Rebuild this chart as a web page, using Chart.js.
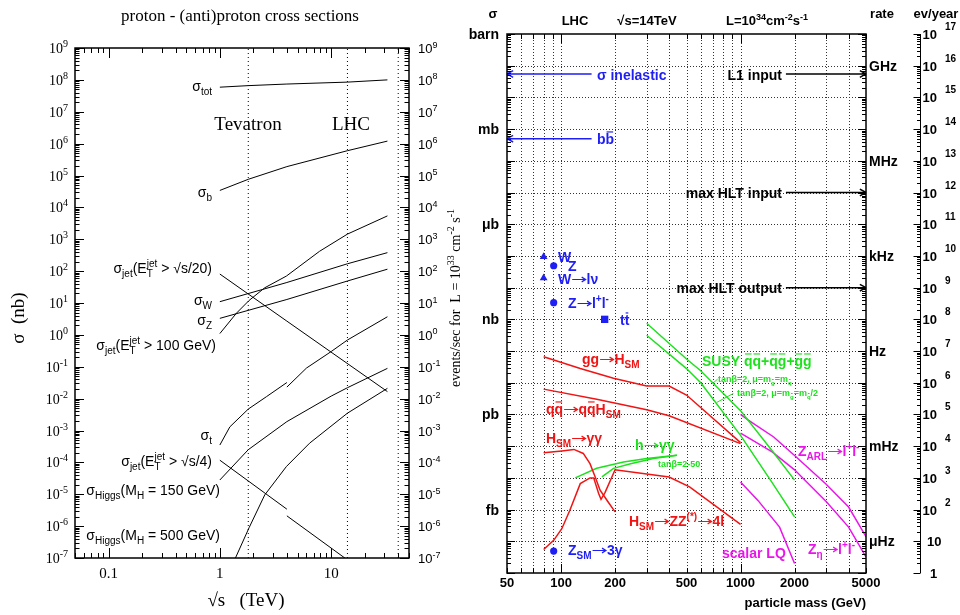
<!DOCTYPE html>
<html lang="en">
<head>
<meta charset="UTF-8">
<title>Cross sections</title>
<script src="https://cdn.jsdelivr.net/npm/chart.js"></script>
<style>
  body { margin: 0; background: #fff; }
  #wrap { position: relative; width: 960px; height: 615px; }
  #wrap canvas { position: absolute; left: 0; top: 0; }
</style>
</head>
<body>
<div id="wrap">
  <canvas id="ppChart" width="960" height="615"></canvas>
  <canvas id="lhcChart" width="960" height="615"></canvas>
</div>
<script>
// ---------- left panel: sqrt(s) in TeV, sigma in nb ----------
const colliderLines = [1.8, 14, 40];
const ppXTicks = [0.1, 1, 10];
const sigmaTot = [[1, 5.9e7], [1.8, 6.6e7], [4, 7.4e7], [14, 8.5e7], [32, 1.0e8]];
const sigmaB = [[1, 3.4e4], [1.8, 7.6e4], [4, 1.9e5], [14, 6.0e5], [32, 1.2e6]];
const sigmaJetS20 = [[1, 81], [4, 2.7], [32, 0.0166]];
const sigmaW = [[1, 11], [4, 44], [14, 170], [32, 380]];
const sigmaZ = [[1, 3.3], [4, 12.9], [14, 49], [32, 115]];
const sigmaJet100 = [[1, 1.1], [1.41, 4.8], [1.83, 12], [2.53, 30], [3.96, 70], [7.87, 420], [14, 1450], [32, 5400]];
const sigmaTop = [[1, 3.5e-4], [1.23, 1.3e-3], [1.8, 4.7e-3], [2.62, 1.15e-2], [4, 3.2e-2], [4, null],
                  [4, 0.023], [6, 0.091], [10, 0.30], [14, 0.69], [32, 3.7]];
const sigmaJetS4 = [[1, 1.17e-4], [4, 3.4e-6], [4, null], [4, 2.1e-6], [14, 8.7e-8]];
const sigmaH150 = [[1, 2.8e-5], [1.8, 2.5e-4], [4, 1.9e-3], [10, 1.2e-2], [14, 2.2e-2], [32, 8.9e-2]];
const sigmaH500 = [[1.36, 8.9e-8], [1.83, 8.9e-7], [2.53, 9.5e-6], [3.96, 7.4e-5], [6.4, 4.0e-4], [14, 3.5e-3], [32, 2.1e-2]];

// ---------- right panel: particle mass in GeV, sigma in pb ----------
const massTicks = [50, 100, 200, 500, 1000, 2000, 5000];
const sigmaUnits = [['barn', 1e12], ['mb', 1e9], ['\u03bcb', 1e6], ['nb', 1e3], ['pb', 1], ['fb', 1e-3]];
const rateUnits = [['GHz', 1e11], ['MHz', 1e8], ['kHz', 1e5], ['Hz', 1e2], ['mHz', 1e-1], ['\u03bcHz', 1e-4]];
const evPerYearExp = [0, 1, 2, 3, 4, 5, 6, 7, 8, 9, 10, 11, 12, 13, 14, 15, 16, 17];

const inelasticArrow = [[148, 5.5e10], [50, 5.5e10]];
const bbArrow = [[148, 5.0e8], [50, 5.0e8]];
const l1InputArrow = [[1790, 5.5e10], [5000, 5.5e10]];
const hltInputArrow = [[1790, 1.0e7], [5000, 1.0e7]];
const hltOutputArrow = [[1790, 1.0e4], [5000, 1.0e4]];

const wTotal = [[80, 9.5e4]];
const zTotal = [[91, 4.9e4]];
const wToLnu = [[80, 2.0e4]];
const zToLl = [[91, 3.35e3]];
const ttbar = [[175, 1.0e3]];
const zTo3Gamma = [[91, 4.9e-5]];

const ggH = [[80, 66], [128, 28], [196, 13.8], [300, 7.9], [400, 7.9], [500, 4.1], [1000, 0.13]];
const qqH = [[80, 6.3], [158, 3.0], [300, 1.4], [400, 0.91], [1000, 0.12]];
const hToGG = [[80, 0.062], [101, 0.071], [118, 0.079], [133, 0.059], [145, 0.028], [155, 0.0107],
               [165, 0.0041], [183, 0.00174], [200, 0.00085]];
const hToZZ = [[80, 5.5e-5], [91, 1.07e-4], [101, 2.5e-4], [112, 9.5e-4], [128, 6.6e-3], [145, 0.01],
               [152, 0.01], [162, 3.2e-3], [167, 2.1e-3], [176, 3.5e-3], [200, 0.018], [300, 0.0132],
               [400, 0.0107], [520, 5.2e-3], [1000, 3.4e-4]];
const mssmHggUpper = [[120, 0.01], [158, 0.02], [223, 0.0316], [300, 0.041], [442, 0.052]];
const mssmHggLower = [[169, 0.0107], [196, 0.02], [244, 0.028], [327, 0.041], [442, 0.052]];
const susyUpper = [[300, 750], [500, 56], [600, 24], [1000, 1.32], [1500, 0.072], [2000, 0.0085]];
const susyLower = [[300, 316], [500, 28], [600, 10], [1000, 0.22], [1500, 0.0071], [2000, 5.9e-4]];
const susyTag1 = [[706, 10], [745, 13]];
const susyTag2 = [[737, 2.4], [912, 4.6]];
const zArl = [[1000, 1.0], [1105, 0.66], [1530, 0.195], [2000, 0.051], [3000, 6.3e-3], [4000, 1.2e-3], [5000, 1.4e-4]];
const zEta = [[1000, 0.26], [1500, 0.066], [2000, 0.018], [3000, 1.8e-3], [4000, 2.8e-4], [5000, 3.2e-5]];
const scalarLq = [[1000, 7.4e-3], [1250, 1.95e-3], [1650, 2.8e-4], [2000, 2.0e-5]];

const SANS = '"Liberation Sans", Arial, Helvetica, sans-serif';
const SERIF = '"Liberation Serif", "Times New Roman", serif';
const BLUE = 'rgb(30,30,245)';
const RED = 'rgb(240,20,20)';
const GREEN = 'rgb(30,225,30)';
const MAGENTA = 'rgb(235,20,235)';

function line(pairs, color, width, extra) {
  return Object.assign({
    data: pairs.map(([x, y]) => ({ x, y })),
    showLine: true, borderColor: color, borderWidth: width, pointRadius: 0, fill: false
  }, extra || {});
}
function marker(pairs, style, radius) {
  return {
    data: pairs.map(([x, y]) => ({ x, y })),
    showLine: false, pointStyle: style, pointRadius: radius,
    backgroundColor: BLUE, borderColor: BLUE, borderWidth: 0
  };
}

// every 1..9 x 10^n step between lo and hi
function logSteps(lo, hi) {
  const out = [];
  for (let e = Math.floor(Math.log10(lo)) - 1; e <= Math.ceil(Math.log10(hi)); e++) {
    for (let m = 1; m < 10; m++) {
      const v = m * Math.pow(10, e);
      if (v >= lo * 0.999 && v <= hi * 1.001) out.push({ v, major: m === 1 });
    }
  }
  return out;
}

// text with _{sub}, ^{sup}, !{overbar}, ~{barred sub}; arrows are drawn as lines
function parseRich(str) {
  const raw = [];
  const re = /([_^!~])\{([^}]*)\}/g;
  let last = 0, m;
  while ((m = re.exec(str))) {
    if (m.index > last) raw.push({ k: 'n', t: str.slice(last, m.index) });
    raw.push({ k: m[1], t: m[2] });
    last = re.lastIndex;
  }
  if (last < str.length) raw.push({ k: 'n', t: str.slice(last) });
  const out = [];
  raw.forEach(t => {
    if (t.k !== 'n' || t.t.indexOf('\u2192') < 0) { out.push(t); return; }
    t.t.split('\u2192').forEach((piece, i) => {
      if (i > 0) out.push({ k: 'a', t: '' });
      if (piece) out.push({ k: 'n', t: piece });
    });
  });
  return out;
}
function richText(ctx, str, x, y, o) {
  const size = o.size, wt = o.weight || 'normal', fam = o.family || SANS;
  const small = Math.round(size * 0.7);
  const parts = parseRich(str);
  let w = 0, prevStart = 0, prevW = 0;
  const placed = [];
  parts.forEach((p, i) => {
    const isSmall = p.k === '_' || p.k === '^' || p.k === '~';
    const fs = isSmall ? small : size;
    ctx.font = `${wt} ${fs}px ${fam}`;
    const pw = p.k === 'a' ? size * 1.1 : ctx.measureText(p.t).width;
    let px = w;
    if (p.k === '^' && i > 0 && (parts[i - 1].k === '_' || parts[i - 1].k === '~')) {
      px = prevStart;
      w = prevStart + Math.max(prevW, pw);
    } else {
      w += pw;
    }
    placed.push({ p, fs, px, pw });
    prevStart = px; prevW = pw;
  });
  const x0 = o.align === 'right' ? x - w : o.align === 'center' ? x - w / 2 : x;
  ctx.fillStyle = o.color || '#000';
  ctx.strokeStyle = o.color || '#000';
  ctx.textAlign = 'left';
  ctx.textBaseline = 'alphabetic';
  placed.forEach(q => {
    if (q.p.k === 'a') {
      const a0 = x0 + q.px + 1, a1 = x0 + q.px + q.pw - 1, ay = Math.round(y - size * 0.34) + 0.5;
      ctx.lineWidth = 1.2;
      ctx.beginPath();
      ctx.moveTo(a0, ay); ctx.lineTo(a1, ay);
      ctx.moveTo(a1 - size * 0.28, ay - size * 0.17); ctx.lineTo(a1, ay); ctx.lineTo(a1 - size * 0.28, ay + size * 0.17);
      ctx.stroke();
      return;
    }
    ctx.font = `${wt} ${q.fs}px ${fam}`;
    let dy = 0;
    if (q.p.k === '_' || q.p.k === '~') dy = size * 0.3;
    if (q.p.k === '^') dy = -size * 0.42;
    ctx.fillText(q.p.t, x0 + q.px, y + dy);
    if (q.p.k === '!' || q.p.k === '~') {
      const top = y + dy - q.fs * 0.86;
      ctx.lineWidth = Math.max(1, q.fs / 12);
      ctx.beginPath();
      ctx.moveTo(x0 + q.px + 1, top);
      ctx.lineTo(x0 + q.px + q.pw - 1, top);
      ctx.stroke();
    }
  });
  return w;
}
function rotatedText(ctx, str, x, y, o) {
  ctx.save();
  ctx.translate(x, y);
  ctx.rotate(-Math.PI / 2);
  richText(ctx, str, 0, 0, Object.assign({ align: 'center' }, o));
  ctx.restore();
}

function drawYTicks(ctx, sc, a, lo, hi, maj, min) {
  ctx.beginPath();
  logSteps(lo, hi).forEach(t => {
    const y = Math.round(sc.getPixelForValue(t.v)) + 0.5;
    const len = t.major ? maj : min;
    ctx.moveTo(a.left, y); ctx.lineTo(a.left + len, y);
    ctx.moveTo(a.right, y); ctx.lineTo(a.right - len, y);
  });
  ctx.stroke();
}
function drawXTicks(ctx, sc, a, lo, hi, maj, min) {
  ctx.beginPath();
  logSteps(lo, hi).forEach(t => {
    const x = Math.round(sc.getPixelForValue(t.v)) + 0.5;
    const len = t.major ? maj : min;
    ctx.moveTo(x, a.bottom); ctx.lineTo(x, a.bottom - len);
    ctx.moveTo(x, a.top); ctx.lineTo(x, a.top + len);
  });
  ctx.stroke();
}

const common = {
  responsive: false,
  animation: false,
  events: [],
  plugins: { legend: { display: false }, tooltip: { enabled: false } },
  elements: { line: { tension: 0 } }
};

// ---------- left chart ----------
const ppDecor = {
  id: 'ppDecor',
  afterDraw(chart) {
    const { ctx, chartArea: a, scales: { x, y } } = chart;
    ctx.save();
    ctx.strokeStyle = '#000';
    ctx.lineWidth = 1;
    drawYTicks(ctx, y, a, 1e-7, 1e9, 9, 4.5);
    drawXTicks(ctx, x, a, 0.05, 50, 10, 5);
    ctx.lineWidth = 1.5;
    ctx.strokeRect(a.left, a.top, a.right - a.left, a.bottom - a.top);

    for (let e = -7; e <= 9; e++) {
      const py = y.getPixelForValue(Math.pow(10, e));
      richText(ctx, '10^{' + e + '}', 68, py + 5, { size: 14, family: SERIF, align: 'right' });
      richText(ctx, '10^{' + e + '}', 418, py + 5, { size: 13, family: SANS });
    }
    ppXTicks.forEach(v => {
      richText(ctx, String(v), x.getPixelForValue(v), 578, { size: 15, family: SERIF, align: 'center' });
    });

    richText(ctx, 'proton - (anti)proton cross sections', 240, 21, { size: 17, family: SERIF, align: 'center' });
    richText(ctx, 'Tevatron', 248, 130, { size: 19, family: SERIF, align: 'center' });
    richText(ctx, 'LHC', 351, 130, { size: 19, family: SERIF, align: 'center' });
    richText(ctx, '\u221As   (TeV)', 246, 606, { size: 19, family: SERIF, align: 'center' });
    rotatedText(ctx, '\u03c3  (nb)', 24, 318, { size: 19, family: SERIF });
    rotatedText(ctx, 'events/sec for  L = 10^{33} cm^{-2} s^{-1}', 460, 298, { size: 14, family: SERIF });

    const lab = (s, xr, yb) => richText(ctx, s, xr, yb, { size: 14, family: SANS, align: 'right' });
    lab('\u03c3_{tot}', 212, 91);
    lab('\u03c3_{b}', 212, 197);
    lab('\u03c3_{jet}(E_{T}^{jet} > \u221As/20)', 212, 273);
    lab('\u03c3_{W}', 212, 305);
    lab('\u03c3_{Z}', 212, 325);
    lab('\u03c3_{jet}(E_{T}^{jet} > 100 GeV)', 216, 350);
    lab('\u03c3_{t}', 212, 440);
    lab('\u03c3_{jet}(E_{T}^{jet} > \u221As/4)', 212, 466);
    lab('\u03c3_{Higgs}(M_{H} = 150 GeV)', 220, 495);
    lab('\u03c3_{Higgs}(M_{H} = 500 GeV)', 220, 540);
    ctx.restore();
  }
};

new Chart(document.getElementById('ppChart'), {
  type: 'scatter',
  data: {
    datasets: [
      ...colliderLines.map(e => line([[e, 1e-7], [e, 1e9]], '#000', 1, { borderDash: [1, 3] })),
      line(sigmaTot, '#000', 1),
      line(sigmaB, '#000', 1),
      line(sigmaJetS20, '#000', 1),
      line(sigmaW, '#000', 1),
      line(sigmaZ, '#000', 1),
      line(sigmaJet100, '#000', 1),
      line(sigmaTop, '#000', 1),
      line(sigmaJetS4, '#000', 1),
      line(sigmaH150, '#000', 1),
      line(sigmaH500, '#000', 1)
    ]
  },
  options: Object.assign({}, common, {
    layout: { padding: { left: 75, right: 551, top: 48, bottom: 57 } },
    scales: {
      x: { type: 'logarithmic', min: 0.05, max: 50, display: false },
      y: { type: 'logarithmic', min: 1e-7, max: 1e9, display: false }
    }
  }),
  plugins: [ppDecor]
});

// ---------- right chart ----------
const lhcGrid = {
  id: 'lhcGrid',
  beforeDatasetsDraw(chart) {
    const { ctx, chartArea: a, scales: { x, y } } = chart;
    ctx.save();
    ctx.strokeStyle = '#333';
    ctx.lineWidth = 1;
    ctx.setLineDash([1, 2]);
    ctx.beginPath();
    logSteps(60, 4000).forEach(t => {
      const px = Math.round(x.getPixelForValue(t.v)) + 0.5;
      ctx.moveTo(px, a.top); ctx.lineTo(px, a.bottom);
    });
    for (let e = -4; e <= 11; e++) {
      const py = Math.round(y.getPixelForValue(Math.pow(10, e))) + 0.5;
      ctx.moveTo(a.left, py); ctx.lineTo(a.right, py);
    }
    ctx.stroke();
    ctx.restore();
  }
};

const arrowHeads = {
  id: 'arrowHeads',
  afterDatasetsDraw(chart) {
    const ctx = chart.ctx;
    chart.data.datasets.forEach((ds, i) => {
      if (!ds.arrowHead) return;
      const pts = chart.getDatasetMeta(i).data;
      const p1 = pts[pts.length - 1], p0 = pts[pts.length - 2];
      const ang = Math.atan2(p1.y - p0.y, p1.x - p0.x);
      ctx.save();
      ctx.strokeStyle = ds.borderColor;
      ctx.lineWidth = ds.borderWidth;
      ctx.beginPath();
      [-1, 1].forEach(s => {
        ctx.moveTo(p1.x, p1.y);
        ctx.lineTo(p1.x - 7 * Math.cos(ang + s * 0.5), p1.y - 7 * Math.sin(ang + s * 0.5));
      });
      ctx.stroke();
      ctx.restore();
    });
  }
};

const lhcDecor = {
  id: 'lhcDecor',
  afterDraw(chart) {
    const { ctx, chartArea: a, scales: { x, y } } = chart;
    ctx.save();
    ctx.strokeStyle = '#000';
    ctx.lineWidth = 1;
    drawYTicks(ctx, y, a, 1e-5, 1e12, 8, 4);
    drawXTicks(ctx, x, a, 50, 5000, 9, 5);
    ctx.lineWidth = 1.5;
    ctx.strokeRect(a.left, a.top, a.right - a.left, a.bottom - a.top);

    // events per year axis
    const ax = 920.5;
    ctx.lineWidth = 1;
    ctx.beginPath();
    ctx.moveTo(ax, a.top); ctx.lineTo(ax, a.bottom);
    logSteps(1e-5, 1e12).forEach(t => {
      const py = Math.round(y.getPixelForValue(t.v)) + 0.5;
      ctx.moveTo(ax, py); ctx.lineTo(ax - (t.major ? 7 : 3.5), py);
    });
    ctx.stroke();

    const B = (s, xx, yy, col, size, align) =>
      richText(ctx, s, xx, yy, { size, weight: 'bold', family: SANS, color: col, align: align || 'left' });

    evPerYearExp.forEach(k => {
      const py = y.getPixelForValue(Math.pow(10, k - 5));
      if (k === 0) B('1', 930, py + 5, '#000', 13);
      else if (k === 1) B('10', 927, py + 5, '#000', 13);
      else {
        B('10', 937, py + 5, '#000', 13, 'right');
        B(String(k), 945, py - 4, '#000', 10);
      }
    });
    sigmaUnits.forEach(([s, v]) => B(s, 499, y.getPixelForValue(v) + 5, '#000', 14, 'right'));
    rateUnits.forEach(([s, v]) => B(s, 869, y.getPixelForValue(v) + 5, '#000', 14));
    massTicks.forEach(v => B(String(v), x.getPixelForValue(v), 587, '#000', 13, 'center'));
    B('particle mass (GeV)', 866, 607, '#000', 13, 'right');

    B('\u03c3', 493, 18, '#000', 13, 'center');
    B('LHC', 575, 25, '#000', 13, 'center');
    B('\u221As=14TeV', 647, 25, '#000', 13, 'center');
    B('L=10^{34}cm^{-2}s^{-1}', 767, 25, '#000', 13, 'center');
    B('rate', 882, 18, '#000', 13, 'center');
    B('ev/year', 936, 18, '#000', 13, 'center');

    B('\u03c3 inelastic', 597, 80, BLUE, 14);
    B('b!{b}', 597, 144, BLUE, 14);
    B('L1 input', 782, 80, '#000', 14, 'right');
    B('max HLT input', 782, 198, '#000', 14, 'right');
    B('max HLT output', 782, 293, '#000', 14, 'right');

    B('W', 558, 262, BLUE, 14);
    B('Z', 568, 271, BLUE, 14);
    B('W\u2192l\u03bd', 558, 284, BLUE, 14);
    B('Z\u2192l^{+}l^{-}', 568, 308, BLUE, 14);
    B('t!{t}', 620, 325, BLUE, 14);
    B('Z_{SM}\u21923\u03b3', 568, 555, BLUE, 14);

    B('gg\u2192H_{SM}', 582, 364, RED, 14);
    B('q!{q}\u2192q!{q}H_{SM}', 546, 414, RED, 14);
    B('H_{SM}\u2192\u03b3\u03b3', 546, 443, RED, 14);
    B('H_{SM}\u2192ZZ^{(*)}\u21924l', 629, 526, RED, 14);

    B('h\u2192\u03b3\u03b3', 635, 450, GREEN, 14);
    B('tan\u03b2=2-50', 658, 467, GREEN, 9);
    B('SUSY !{q}!{q}+!{q}!{g}+!{g}!{g}', 702, 366, GREEN, 14);
    B('tan\u03b2=2, \u03bc=m~{g}=m~{q}', 718, 382, GREEN, 9);
    B('tan\u03b2=2, \u03bc=m~{g}=m~{q}/2', 737, 396, GREEN, 9);

    B('Z_{ARL}\u2192l^{+}l^{-}', 798, 456, MAGENTA, 14);
    B('scalar LQ', 722, 558, MAGENTA, 14);
    B('Z_{\u03b7}\u2192l^{+}l^{-}', 808, 554, MAGENTA, 14);
    ctx.restore();
  }
};

new Chart(document.getElementById('lhcChart'), {
  type: 'scatter',
  data: {
    datasets: [
      line(inelasticArrow, BLUE, 1.5, { arrowHead: true }),
      line(bbArrow, BLUE, 1.5, { arrowHead: true }),
      line(l1InputArrow, '#000', 1.5, { arrowHead: true }),
      line(hltInputArrow, '#000', 1.5, { arrowHead: true }),
      line(hltOutputArrow, '#000', 1.5, { arrowHead: true }),
      line(ggH, RED, 1.5),
      line(qqH, RED, 1.5),
      line(hToGG, RED, 1.5),
      line(hToZZ, RED, 1.5),
      line(mssmHggUpper, GREEN, 1.5),
      line(mssmHggLower, GREEN, 1.5),
      line(susyUpper, GREEN, 1.5),
      line(susyLower, GREEN, 1.5),
      line(susyTag1, GREEN, 1),
      line(susyTag2, GREEN, 1),
      line(zArl, MAGENTA, 1.5),
      line(zEta, MAGENTA, 1.5),
      line(scalarLq, MAGENTA, 1.5),
      marker(wTotal, 'triangle', 4.5),
      marker(zTotal, 'circle', 3.6),
      marker(wToLnu, 'triangle', 4.5),
      marker(zToLl, 'circle', 3.6),
      marker(ttbar, 'rect', 5.2),
      marker(zTo3Gamma, 'circle', 3.6)
    ]
  },
  options: Object.assign({}, common, {
    layout: { padding: { left: 507, right: 94, top: 34, bottom: 42 } },
    scales: {
      x: { type: 'logarithmic', min: 50, max: 5000, display: false },
      y: { type: 'logarithmic', min: 1e-5, max: 1e12, display: false }
    }
  }),
  plugins: [lhcGrid, arrowHeads, lhcDecor]
});
</script>
</body>
</html>
